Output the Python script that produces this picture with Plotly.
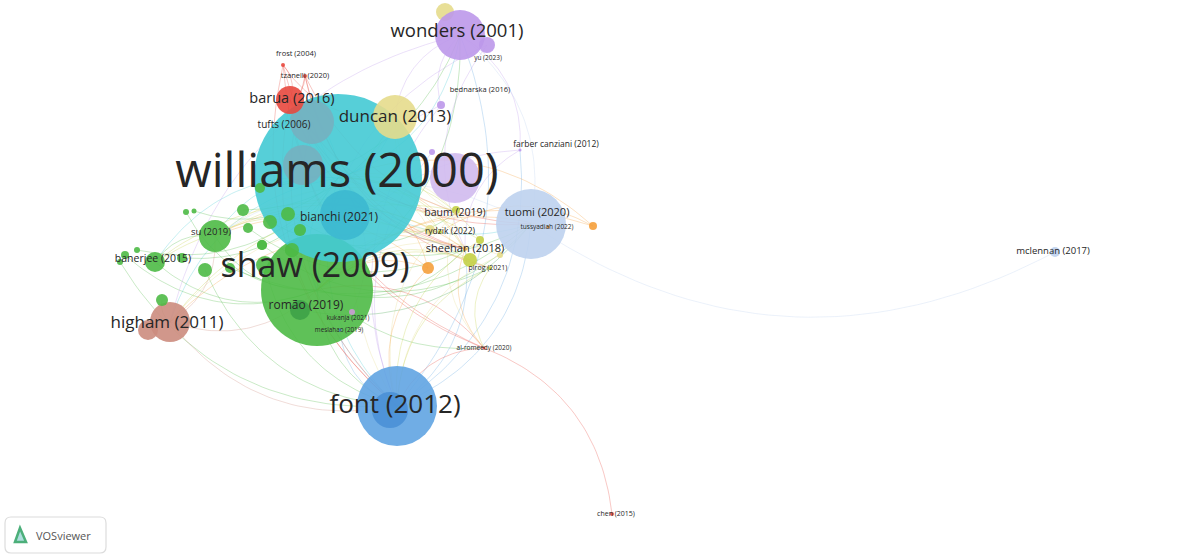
import plotly.graph_objects as go
import numpy as np

# ---------------- data ----------------
# cluster colours (VOSviewer palette as seen)
cluster_colors = {
    "red": (232, 72, 62), "green": (78, 186, 70), "blue": (96, 164, 226),
    "yellow": (230, 220, 140), "purple": (188, 152, 234), "cyan": (68, 202, 212),
    "orange": (245, 160, 60), "brown": (204, 140, 126), "lightblue": (190, 210, 238),
    "lime": (196, 208, 70), "teal": (118, 176, 192), "dteal": (60, 184, 208),
    "dgreen": (62, 162, 72), "dblue": (74, 144, 214), "pink": (204, 156, 214),
    "lpurple": (208, 186, 238),
}

# nodes: name, x, y (map layout coordinates), weight (diameter), cluster
node_names = ["green_a", "green_b", "green_c", "purple_big", "shaw", "williams", "bianchi", "tufts",
              "teal_inner", "font", "font_inner", "yellow_top", "wonders", "yu", "duncan", "barua",
              "tuomi", "higham", "higham_b", "su", "banerjee",
              "g1", "g2", "g3", "g4", "g5", "g6", "g7", "g8", "g9", "g10", "g11", "g12", "g13",
              "g14", "g15", "g16", "g17", "g18", "romao",
              "orange1", "lime1", "yellow1", "lime2", "orange2", "yellow2", "lime3",
              "bednarska", "purple_s", "frost", "tzanelli", "mclennan", "chen", "kukanja",
              "baum", "rydzik", "sheehan", "pirog", "tussyadiah", "farber", "alromeedy", "meslahao"]
node_x = [292, 300, 262, 455, 317, 338, 345, 312, 303, 397, 390, 445, 460, 487, 395, 290,
          531, 170, 148, 215, 155,
          125, 137, 120, 162, 182, 205, 230, 243, 248, 265, 262, 270, 288, 260, 186, 194, 292, 300, 300,
          428, 470, 430, 456, 593, 500, 480,
          441, 432, 283, 305, 1055, 612, 352,
          456, 440, 465, 490, 548, 520, 484, 340]
node_y = [250, 230, 245, 178, 290, 178, 215, 122, 165, 406, 410, 12, 35, 45, 117, 100,
          224, 322, 330, 236, 262,
          255, 250, 262, 300, 258, 270, 268, 210, 228, 265, 245, 222, 214, 188, 212, 211, 250, 230, 310,
          268, 260, 230, 210, 226, 255, 240,
          105, 152, 65, 76, 252, 514, 312,
          213, 232, 249, 268, 227, 150, 348, 330]
node_size = [14, 12, 10, 50, 112, 168, 50, 44, 40, 80, 36, 18, 50, 16, 44, 28,
             70, 40, 20, 32, 20,
             8, 6, 6, 12, 10, 14, 10, 12, 10, 18, 10, 14, 14, 10, 6, 5, 14, 12, 20,
             12, 14, 10, 8, 8, 6, 8,
             8, 6, 4, 4, 10, 4, 6,
             4, 4, 4, 4, 3, 3, 3, 3]
node_cluster = ["green", "green", "green", "lpurple", "green", "cyan", "dteal", "teal",
                "teal", "blue", "dblue", "yellow", "purple", "purple", "yellow", "red",
                "lightblue", "brown", "brown", "green", "green",
                "green", "green", "green", "green", "green", "green", "green", "green", "green",
                "green", "green", "green", "green", "green", "green", "green", "green", "green", "dgreen",
                "orange", "lime", "yellow", "lime", "orange", "yellow", "lime",
                "purple", "purple", "red", "red", "lightblue", "red", "pink",
                "yellow", "lime", "orange", "lime", "orange", "purple", "red", "blue"]

# labels
label_text = ["williams (2000)", "shaw (2009)", "font (2012)", "wonders (2001)", "higham (2011)",
              "duncan (2013)", "barua (2016)", "bianchi (2021)", "tuomi (2020)", "tussyadiah (2022)",
              "baum (2019)", "rydzik (2022)", "sheehan (2018)", "pirog (2021)", "su (2019)",
              "banerjee (2015)", "romão (2019)", "kukanja (2021)", "meslahao (2019)", "al-romeedy (2020)",
              "tufts (2006)", "tzanelli (2020)", "frost (2004)", "yu (2023)", "bednarska (2016)",
              "farber canziani (2012)", "mclennan (2017)", "chen (2015)"]
label_x = [337, 315, 395, 457, 167, 395, 292, 339, 537, 547, 455, 450, 465, 488, 211,
           153, 306, 348, 339, 484, 284, 305, 296, 488, 480, 556, 1053, 616]
label_y = [175, 268, 406, 32, 324, 118, 99, 218, 213, 227, 213, 232, 249, 268, 233,
           259, 306, 318, 330, 348, 125, 76, 54, 58, 90, 145, 252, 514]
label_size = [47, 34, 26, 18.5, 17, 17, 14.5, 12, 11, 6.5, 10.5, 8.5, 11, 7, 9.5,
              10.5, 12, 6.3, 6.3, 6.5, 10, 7.5, 7.5, 6.5, 7.5, 8.5, 9.5, 7]

# links (source -> target)
edges = [
    ("williams", "shaw"), ("williams", "font"), ("williams", "wonders"), ("williams", "duncan"),
    ("williams", "barua"), ("williams", "tuomi"), ("williams", "higham"), ("williams", "su"),
    ("williams", "banerjee"), ("shaw", "font"), ("higham", "shaw"), ("su", "shaw"),
    ("banerjee", "shaw"), ("shaw", "tuomi"), ("shaw", "sheehan"), ("font", "tuomi"),
    ("font", "sheehan"), ("alromeedy", "font"), ("wonders", "duncan"), ("shaw", "wonders"),
    ("wonders", "bednarska"), ("farber", "wonders"), ("tuomi", "wonders"), ("font", "wonders"),
    ("barua", "frost"), ("barua", "tzanelli"), ("frost", "duncan"), ("tzanelli", "tuomi"),
    ("tzanelli", "sheehan"), ("barua", "sheehan"), ("barua", "baum"), ("tuomi", "mclennan"),
    ("chen", "alromeedy"), ("higham", "font"), ("higham", "su"), ("su", "banerjee"),
    ("farber", "shaw"), ("font", "farber"), ("baum", "font"), ("sheehan", "higham"),
    ("rydzik", "shaw"), ("pirog", "font"), ("g1", "shaw"), ("g2", "williams"), ("g3", "font"),
    ("g4", "higham"), ("g5", "williams"), ("g6", "font"), ("g7", "tuomi"), ("g8", "duncan"),
    ("g9", "sheehan"), ("g10", "font"), ("g12", "baum"), ("g13", "tuomi"), ("g14", "wonders"),
    ("g15", "shaw"), ("g16", "williams"), ("orange1", "shaw"), ("orange1", "font"),
    ("lime1", "williams"), ("yellow1", "shaw"), ("lime2", "higham"), ("orange2", "williams"),
    ("yellow2", "font"), ("lime3", "su"), ("frost", "sheehan"), ("tzanelli", "pirog"),
    ("frost", "alromeedy"), ("barua", "alromeedy"), ("bednarska", "shaw"), ("purple_s", "font"),
    ("kukanja", "williams"), ("meslahao", "font"), ("alromeedy", "shaw"), ("tussyadiah", "shaw"),
    ("orange2", "rydzik"), ("sheehan", "williams"), ("baum", "su"), ("rydzik", "banerjee"),
    ("duncan", "sheehan"), ("duncan", "font"), ("wonders", "higham"), ("yu", "sheehan"),
    ("yu", "shaw"), ("bednarska", "font"), ("farber", "sheehan"), ("tufts", "sheehan"),
    ("tufts", "font"), ("romao", "tuomi"), ("g17", "alromeedy"), ("g11", "pirog"),
    ("pirog", "alromeedy"), ("sheehan", "alromeedy"), ("baum", "alromeedy"),
    ("orange1", "williams"), ("orange1", "su"), ("yellow1", "williams"), ("yellow1", "higham"),
    ("lime1", "shaw"), ("lime1", "banerjee"), ("lime3", "williams"), ("lime3", "font"),
    ("yellow2", "shaw"), ("orange2", "shaw"), ("rydzik", "williams"), ("baum", "williams"),
    ("sheehan", "su"), ("pirog", "shaw"), ("tzanelli", "font"), ("frost", "font"),
    ("barua", "font"), ("barua", "tuomi"), ("duncan", "baum"), ("tuomi", "su"),
]

# ---------------- build figure ----------------
idx = {n: i for i, n in enumerate(node_names)}


def rgba(c, a):
    r, g, b = cluster_colors[c]
    return f"rgba({r},{g},{b},{a})"


fig = go.Figure()

# edges as curved (quadratic) links, grouped by colour
curv = 0.3
edge_groups = {}
t = np.linspace(0, 1, 40)
for s, d in edges:
    x0, y0 = node_x[idx[s]], node_y[idx[s]]
    x1, y1 = node_x[idx[d]], node_y[idx[d]]
    dx, dy = x1 - x0, y1 - y0
    cx = (x0 + x1) / 2 - dy * curv
    cy = (y0 + y1) / 2 + dx * curv
    bx = (1 - t) ** 2 * x0 + 2 * (1 - t) * t * cx + t ** 2 * x1
    by = (1 - t) ** 2 * y0 + 2 * (1 - t) * t * cy + t ** 2 * y1
    g = edge_groups.setdefault(node_cluster[idx[s]], ([], []))
    g[0].extend(list(bx) + [None])
    g[1].extend(list(by) + [None])

for c, (xs, ys) in edge_groups.items():
    fig.add_trace(go.Scatter(x=xs, y=ys, mode="lines",
                             line=dict(color=rgba(c, 0.3), width=1),
                             hoverinfo="skip", showlegend=False))

# nodes (in list order so later ones sit on top)
fig.add_trace(go.Scatter(
    x=node_x, y=node_y, mode="markers",
    marker=dict(size=node_size, sizemode="diameter", opacity=1,
                color=[rgba(c, 0.9) for c in node_cluster],
                line=dict(width=0)),
    hoverinfo="skip", showlegend=False))

# labels
fig.add_trace(go.Scatter(
    x=label_x, y=label_y, mode="text", text=label_text,
    textposition="middle center",
    textfont=dict(size=label_size, color="#262626", family="Open Sans"),
    hoverinfo="skip", showlegend=False))

# VOSviewer badge
fig.add_shape(type="path",
              path="M 11,517 L 100,517 Q 106,517 106,523 L 106,547 Q 106,553 100,553 "
                   "L 11,553 Q 5,553 5,547 L 5,523 Q 5,517 11,517 Z",
              xref="x", yref="y", line=dict(color="#dcdcdc", width=1.2),
              fillcolor="white", layer="above")
fig.add_shape(type="path", path="M 15,542 L 20,528 L 26,542 Z", xref="x", yref="y",
              line=dict(color="#4caf7a", width=2.5), fillcolor="rgba(120,200,200,0.6)", layer="above")
fig.add_annotation(x=63, y=535, xref="x", yref="y", text="VOSviewer", showarrow=False,
                   font=dict(size=11, color="#555", family="Open Sans"))

fig.update_layout(
    width=1177, height=556, margin=dict(l=0, r=0, t=0, b=0),
    paper_bgcolor="white", plot_bgcolor="white",
    xaxis=dict(range=[0, 1177], visible=False, fixedrange=True),
    yaxis=dict(range=[556, 0], visible=False, fixedrange=True),
)

fig.write_html("out.html", config={"displayModeBar": False},
               post_script="document.body.style.margin='0';document.body.style.overflow='hidden';")
